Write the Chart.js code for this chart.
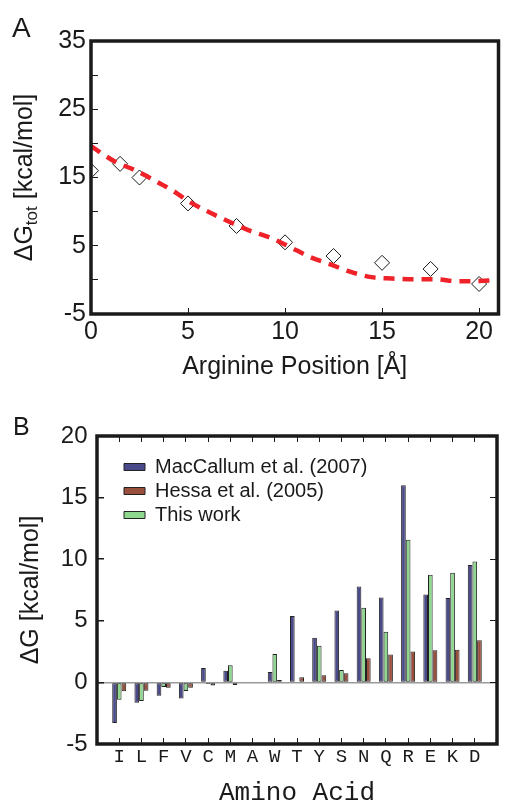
<!DOCTYPE html>
<html>
<head>
<meta charset="utf-8">
<script src="https://cdn.jsdelivr.net/npm/chart.js@4.4.1/dist/chart.umd.min.js"></script>
<style>
  html, body { margin: 0; padding: 0; background: #fff; }
  #wrap { position: relative; width: 507px; height: 811px; overflow: hidden; }
  canvas { position: absolute; left: 0; }
  #chartA { top: 0; }
  #chartB { top: 400px; }
</style>
</head>
<body>
<div id="wrap">
  <canvas id="chartA" width="507" height="400"></canvas>
  <canvas id="chartB" width="507" height="411"></canvas>
</div>
<script>
// Pannello A: punti simulati (rombi) e curva tratteggiata
const diamondX = [0, 1.5, 2.5, 5, 7.5, 10, 12.5, 15, 17.5, 20];
const diamondY = [16.0, 17.0, 15.0, 11.2, 7.9, 5.5, 3.5, 2.5, 1.6, -0.6];
const curveX = [0, 1.25, 2.25, 3.25, 4.2, 5.1, 6.1, 7.1, 8.1, 9.3, 10.2, 11.25, 12.3, 13.35, 14.45, 15.5, 16.6, 17.7, 18.9, 20, 21];
const curveY = [19.6, 17.3, 16.1, 14.6, 13.1, 11.4, 9.9, 8.55, 7.3, 6.1, 4.9, 3.4, 2.3, 1.2, 0.4, 0.2, 0.1, 0.1, -0.2, -0.15, 0];

// Pannello B: barre per amminoacido
const aminoAcids = ['I', 'L', 'F', 'V', 'C', 'M', 'A', 'W', 'T', 'Y', 'S', 'N', 'Q', 'R', 'E', 'K', 'D'];
const macCallum = [-3.3, -1.65, -1.08, -1.3, 1.17, 0.95, 0, 0.85, 5.38, 3.63, 5.84, 7.79, 6.9, 16.0, 7.14, 6.85, 9.52];
const thisWork  = [-1.4, -1.5, -0.37, -0.7, -0.12, 1.39, 0, 2.3, 0, 2.98, 1.0, 6.06, 4.11, 11.58, 8.74, 8.9, 9.82];
const hessa     = [-0.72, -0.67, -0.44, -0.43, -0.25, -0.22, 0, 0.2, 0.42, 0.58, 0.74, 1.96, 2.27, 2.5, 2.6, 2.65, 3.42];

const ink = '#1a1a1a';
const sans = "'Liberation Sans', Arial, sans-serif";
const mono = "'Liberation Mono', 'Courier New', monospace";

Chart.defaults.font.family = sans;
Chart.defaults.color = ink;
Chart.defaults.animation = false;

// cornice nera attorno all'area del grafico
const framePlugin = {
    id: 'frame',
    afterDraw(chart) {
        const a = chart.chartArea;
        const ctx = chart.ctx;
        ctx.save();
        ctx.lineWidth = 3.5;
        ctx.strokeStyle = ink;
        ctx.strokeRect(a.left, a.top, a.right - a.left, a.bottom - a.top);
        ctx.restore();
    }
};

// lettera del pannello (A / B)
const panelLetter = {
    id: 'panelLetter',
    afterDraw(chart, args, opts) {
        const ctx = chart.ctx;
        ctx.save();
        ctx.font = opts.size + 'px ' + sans;
        ctx.fillStyle = ink;
        ctx.textBaseline = 'alphabetic';
        ctx.fillText(opts.text, opts.x, opts.y);
        ctx.restore();
    }
};

// titolo asse y con pedice (ΔG_tot)
const subTitleY = {
    id: 'subTitleY',
    afterDraw(chart, args, opts) {
        if (!opts.show) return;
        const a = chart.chartArea;
        const ctx = chart.ctx;
        ctx.save();
        ctx.translate(opts.x, (a.top + a.bottom) / 2);
        ctx.rotate(-Math.PI / 2);
        ctx.fillStyle = ink;
        ctx.textBaseline = 'middle';
        const big = '25px ' + sans, small = '17px ' + sans;
        ctx.font = big;
        const w1 = ctx.measureText('ΔG').width;
        const w3 = ctx.measureText(' [kcal/mol]').width;
        ctx.font = small;
        const w2 = ctx.measureText('tot').width;
        let x = -(w1 + w2 + w3) / 2;
        ctx.font = big;
        ctx.fillText('ΔG', x, 0);
        ctx.font = small;
        ctx.fillText('tot', x + w1, 7);
        ctx.font = big;
        ctx.fillText(' [kcal/mol]', x + w1 + w2, 0);
        ctx.restore();
    }
};

Chart.register(framePlugin, panelLetter, subTitleY);

// ---------------- Pannello A ----------------
new Chart(document.getElementById('chartA').getContext('2d'), {
    type: 'scatter',
    data: {
        datasets: [
            {
                label: 'fit',
                data: curveX.map((x, i) => ({ x: x, y: curveY[i] })),
                showLine: true,
                borderColor: '#ee2228',
                borderWidth: 4.5,
                borderDash: [11, 8],
                pointRadius: 0,
                cubicInterpolationMode: 'monotone',
                fill: false
            },
            {
                label: 'sim',
                data: diamondX.map((x, i) => ({ x: x, y: diamondY[i] })),
                pointStyle: 'rectRot',
                pointRadius: 7.5,
                pointBackgroundColor: '#ffffff',
                pointBorderColor: ink,
                pointBorderWidth: 1
            }
        ]
    },
    options: {
        responsive: false,
        layout: { padding: { top: 41, right: 1, bottom: 0, left: 0 } },
        plugins: {
            legend: { display: false },
            tooltip: { enabled: false },
            panelLetter: { text: 'A', x: 12, y: 37, size: 28 },
            subTitleY: { show: true, x: 25 }
        },
        scales: {
            x: {
                type: 'linear',
                min: 0,
                max: 21,
                border: { display: false },
                grid: { drawOnChartArea: false, tickLength: -6, tickColor: ink, lineWidth: 1 },
                ticks: { stepSize: 5, includeBounds: false, padding: 9, font: { size: 25 }, color: ink, maxRotation: 0 },
                title: { display: true, text: 'Arginine Position [Å]', font: { size: 25 }, color: ink, padding: { top: 0, bottom: 18 } },
                afterFit: (s) => { s.height = 86; }
            },
            y: {
                min: -5,
                max: 35,
                border: { display: false },
                grid: { drawOnChartArea: false, tickLength: -7, tickColor: ink, lineWidth: 1 },
                ticks: {
                    stepSize: 5,
                    padding: 12,
                    font: { size: 25 },
                    color: ink,
                    callback: (v) => ((v + 5) % 10 === 0 ? String(v) : '')
                },
                afterFit: (s) => { s.width = 91; }
            }
        }
    }
});

// ---------------- Pannello B ----------------
// un posto vuoto a ciascun estremo dell'asse
const padded = (arr) => [null, ...arr, null];
const legendRank = [0, 2, 1];

// la legenda verticale in 'chartArea' parte da top = 0: la spostiamo dentro il riquadro
const shiftLegend = {
    id: 'shiftLegend',
    afterLayout(chart) {
        const lg = chart.legend;
        if (!lg) return;
        lg.left += 23; lg.right += 23;
        lg.top += 53; lg.bottom += 53;
    }
};

new Chart(document.getElementById('chartB').getContext('2d'), {
    type: 'bar',
    data: {
        labels: ['', ...aminoAcids, ''],
        datasets: [
            {
                label: 'MacCallum et al. (2007)',
                data: padded(macCallum),
                backgroundColor: '#4a4a8a',
                borderColor: '#222222',
                borderWidth: 1,
                borderSkipped: false
            },
            {
                label: 'This work',
                data: padded(thisWork),
                backgroundColor: '#8fd68f',
                borderColor: '#222222',
                borderWidth: 1,
                borderSkipped: false
            },
            {
                label: 'Hessa et al. (2005)',
                data: padded(hessa),
                backgroundColor: '#9a4e3c',
                borderColor: '#222222',
                borderWidth: 1,
                borderSkipped: false
            }
        ]
    },
    plugins: [shiftLegend],
    options: {
        responsive: false,
        layout: { padding: { top: 36, right: 10, bottom: 0, left: 0 } },
        datasets: { bar: { categoryPercentage: 0.63, barPercentage: 1 } },
        plugins: {
            tooltip: { enabled: false },
            legend: {
                position: 'chartArea',
                align: 'start',
                labels: {
                    boxWidth: 21,
                    boxHeight: 7,
                    padding: 4,
                    color: ink,
                    font: { size: 20 },
                    sort: (a, b) => legendRank[a.datasetIndex] - legendRank[b.datasetIndex]
                }
            },
            panelLetter: { text: 'B', x: 13, y: 35, size: 25 },
            subTitleY: { show: false }
        },
        scales: {
            x: {
                type: 'category',
                offset: false,
                border: { display: false },
                grid: { drawOnChartArea: false, offset: false, tickLength: -6, tickColor: ink, lineWidth: 1 },
                ticks: { autoSkip: false, maxRotation: 0, padding: 7.6, font: { family: mono, size: 19 }, color: ink },
                title: { display: true, text: 'Amino Acid', font: { family: mono, size: 26 }, color: ink, padding: { top: 0, bottom: 2.4 } },
                afterFit: (s) => { s.height = 67; }
            },
            x2: {
                type: 'category',
                position: 'top',
                offset: false,
                border: { display: false },
                grid: { drawOnChartArea: false, offset: false, tickLength: -6, tickColor: ink, lineWidth: 1 },
                ticks: { display: false },
                afterFit: (s) => { s.height = 0; }
            },
            y: {
                min: -5,
                max: 20,
                border: { display: false },
                grid: {
                    drawOnChartArea: true,
                    tickLength: -7,
                    tickColor: ink,
                    lineWidth: 1.5,
                    color: (ctx) => (ctx.tick && ctx.tick.value === 0 ? '#9a9a9a' : 'rgba(0,0,0,0)')
                },
                ticks: { stepSize: 5, padding: 16.5, font: { size: 24 }, color: ink },
                title: { display: true, text: 'ΔG [kcal/mol]', font: { size: 25 }, color: ink, padding: { top: 16, bottom: 0 } },
                afterFit: (s) => { s.width = 97; }
            },
            y2: {
                type: 'linear',
                position: 'right',
                min: -5,
                max: 20,
                border: { display: false },
                grid: { drawOnChartArea: false, tickLength: -7, tickColor: ink, lineWidth: 1 },
                ticks: { display: false, stepSize: 5 },
                afterFit: (s) => { s.width = 0; }
            }
        }
    }
});
</script>
</body>
</html>
